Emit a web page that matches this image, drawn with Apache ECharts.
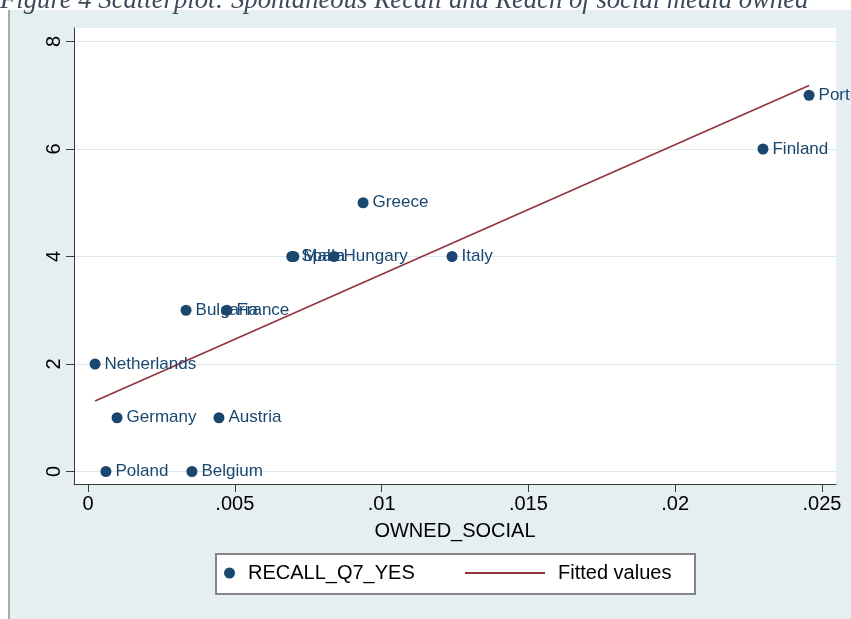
<!DOCTYPE html>
<html>
<head>
<meta charset="utf-8">
<script src="https://cdn.jsdelivr.net/npm/echarts@6/dist/echarts.min.js"></script>
<style>
  html, body { margin: 0; padding: 0; background: #ffffff; }
  #chart { width: 851px; height: 619px; }
</style>
</head>
<body>
<div id="chart"></div>
<script>
// Country-level observations
const countries = ['Portugal', 'Finland', 'Greece', 'Spain', 'Malta', 'Hungary', 'Italy',
                   'Bulgaria', 'France', 'Netherlands', 'Germany', 'Austria', 'Poland', 'Belgium'];
const ownedSocial = [0.02456, 0.02299, 0.00937, 0.00694, 0.00701, 0.00838, 0.01240,
                     0.00334, 0.00473, 0.00024, 0.00099, 0.00446, 0.00061, 0.00354];
const recallQ7Yes = [7, 6, 5, 4, 4, 4, 4, 3, 3, 2, 1, 1, 0, 0];

// Linear fit, drawn across the observed range of OWNED_SOCIAL
const fitX = [0.00024, 0.02456];
const fitY = [1.31, 7.18];

// Axis tick values
const xTicks = [0, 0.005, 0.01, 0.015, 0.02, 0.025];
const yTicks = [0, 2, 4, 6, 8];

const BAND = '#e5eef0';
const NAVY = '#1a476f';
const MAROON = '#90353b';
const AXIS = '#3a3a3a';
const SANS = '"Liberation Sans", Arial, Helvetica, sans-serif';

const chart = echarts.init(document.getElementById('chart'), null, { renderer: 'canvas' });

const fmtX = v => (v === 0 ? '0' : String(+v.toFixed(3)).replace(/^0/, ''));

const option = {
  backgroundColor: BAND,
  animation: false,
  grid: {
    left: 74, top: 28, right: 15, bottom: 135,
    show: true, backgroundColor: '#ffffff', borderWidth: 0
  },
  xAxis: {
    type: 'value',
    min: -0.000477, max: 0.025477,
    name: 'OWNED_SOCIAL',
    nameLocation: 'middle',
    nameGap: 37,
    nameTextStyle: { fontFamily: SANS, fontSize: 20, color: '#000' },
    axisLine: { show: true, onZero: false, lineStyle: { color: AXIS, width: 1 } },
    axisTick: { show: true, customValues: xTicks, length: 8, lineStyle: { color: AXIS } },
    axisLabel: { customValues: xTicks, formatter: fmtX, fontFamily: SANS, fontSize: 20, color: '#000', margin: 10 },
    splitLine: { show: false }
  },
  yAxis: {
    type: 'value',
    min: -0.2326, max: 8.251,
    axisLine: { show: true, onZero: false, lineStyle: { color: AXIS, width: 1 } },
    axisTick: { show: true, customValues: yTicks, length: 8, lineStyle: { color: AXIS } },
    axisLabel: { customValues: yTicks, rotate: 90, fontFamily: SANS, fontSize: 20, color: '#000', margin: 10 },
    splitLine: { show: true, lineStyle: { color: '#dce8ec', width: 1 } }
  },
  legend: [
    {
      data: [{ name: 'RECALL_Q7_YES', icon: 'circle' }],
      left: 224, top: 563, padding: 0,
      itemWidth: 11, itemHeight: 11,
      textStyle: { fontFamily: SANS, fontSize: 20, color: '#000', padding: [0, 0, 0, 8] },
      selectedMode: false
    },
    {
      data: [{ name: 'Fitted values', icon: 'rect' }],
      left: 465, top: 563, padding: 0,
      itemWidth: 80, itemHeight: 2,
      textStyle: { fontFamily: SANS, fontSize: 20, color: '#000', padding: [0, 0, 0, 8] },
      selectedMode: false
    }
  ],
  graphic: [
    // white page margin above and left of the figure
    { type: 'rect', left: 0, top: 0, z: 90, shape: { width: 851, height: 10 }, style: { fill: '#ffffff' } },
    { type: 'rect', left: 0, top: 0, z: 90, shape: { width: 8, height: 619 }, style: { fill: '#ffffff' } },
    { type: 'rect', left: 8, top: 10, z: 90, shape: { width: 2, height: 609 }, style: { fill: '#a9abac' } },
    // legend frame
    { type: 'rect', left: 215, top: 553, z: 3, shape: { width: 479, height: 40 },
      style: { fill: '#ffffff', stroke: '#858585', lineWidth: 2 } },
    // caption of the figure
    { type: 'text', left: 0, top: -13, z: 95,
      style: { text: 'Figure 4 Scatterplot: Spontaneous Recall and Reach of social media owned',
               font: 'italic 26.7px "Liberation Serif", "DejaVu Serif", serif', fill: '#3e4b5b' } }
  ],
  series: [
    {
      name: 'Fitted values',
      type: 'line',
      data: fitX.map((x, i) => [x, fitY[i]]),
      symbol: 'none',
      lineStyle: { color: MAROON, width: 1.6 },
      itemStyle: { color: MAROON },
      z: 2
    },
    {
      name: 'RECALL_Q7_YES',
      type: 'scatter',
      data: countries.map((c, i) => ({ name: c, value: [ownedSocial[i], recallQ7Yes[i]] })),
      symbol: 'circle',
      symbolSize: 11,
      itemStyle: { color: NAVY, opacity: 1 },
      label: {
        show: true, position: 'right', distance: 4, offset: [0, 3],
        formatter: p => p.name,
        fontFamily: SANS, fontSize: 17, color: NAVY
      },
      labelLayout: { hideOverlap: false },
      z: 3
    }
  ]
};

chart.setOption(option);
</script>
</body>
</html>
